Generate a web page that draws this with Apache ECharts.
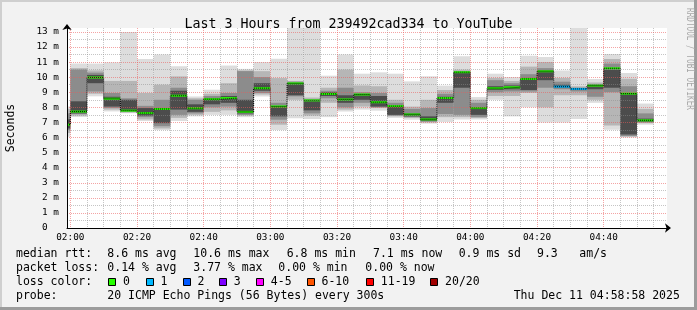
<!DOCTYPE html>
<html>
<head>
<meta charset="utf-8">
<title>Last 3 Hours from 239492cad334 to YouTube</title>
<script src="https://cdn.jsdelivr.net/npm/echarts@6/dist/echarts.min.js"></script>
<style>
  html, body { margin: 0; padding: 0; background: #f2f2f2; }
  #chart { width: 697px; height: 310px; }
</style>
</head>
<body>
<div id="chart"></div>
<script>
// 5 minute steps, first one is cut by the left edge of the window
const stepTimes = ['01:55', '02:00', '02:05', '02:10', '02:15', '02:20', '02:25', '02:30', '02:35', '02:40', '02:45', '02:50',
  '02:55', '03:00', '03:05', '03:10', '03:15', '03:20', '03:25', '03:30', '03:35', '03:40', '03:45', '03:50',
  '03:55', '04:00', '04:05', '04:10', '04:15', '04:20', '04:25', '04:30', '04:35', '04:40', '04:45', '04:50'];

const median = [6.85, 7.72, 9.98, 8.57, 7.78, 7.62, 7.89, 8.77, 7.94, 8.54, 8.61, 7.70,
  9.27, 8.06, 9.59, 8.46, 8.89, 8.52, 8.85, 8.34, 8.08, 7.53, 7.20, 8.62,
  10.33, 7.95, 9.27, 9.33, 9.88, 10.39, 9.37, 9.22, 9.44, 10.59, 8.91, 7.14];

// lost pings per step (index into lossColors)
const loss = [0, 0, 0, 0, 0, 0, 0, 0, 0, 0, 0, 0,
  0, 0, 0, 0, 0, 0, 0, 0, 0, 0, 0, 0,
  0, 0, 0, 0, 0, 0, 1, 1, 0, 0, 0, 0];

// smoke: outer band (min..max) down to the inner band around the median
const smokeLo0 = [6.05, 7.36, 8.73, 7.73, 7.60, 7.10, 6.50, 7.10, 7.40, 7.50, 7.50, 7.35,
  8.72, 6.50, 7.28, 7.22, 7.35, 7.73, 7.85, 7.78, 7.30, 7.18, 6.92, 7.03,
  7.20, 7.20, 8.50, 7.40, 8.00, 7.00, 7.00, 7.22, 8.30, 6.52, 6.00, 6.85];
const smokeHi0 = [8.06, 10.90, 10.90, 10.98, 13.00, 11.20, 11.50, 10.72, 8.72, 9.17, 10.77, 10.55,
  11.00, 11.22, 13.60, 13.60, 10.10, 11.50, 10.23, 10.32, 10.23, 9.72, 10.06, 9.44,
  11.38, 8.68, 10.23, 10.01, 11.42, 11.34, 10.45, 13.60, 9.88, 11.53, 10.28, 8.25];
const smokeLo1 = [6.30, 7.45, 8.90, 7.85, 7.65, 7.20, 6.60, 7.30, 7.50, 7.70, 7.80, 7.45,
  8.85, 6.85, 8.50, 7.45, 8.30, 7.85, 8.05, 7.95, 7.40, 7.30, 7.00, 7.35,
  7.35, 7.30, 8.75, 8.75, 8.95, 8.00, 8.80, 8.80, 8.50, 6.80, 6.05, 6.95];
const smokeHi1 = [7.90, 10.60, 10.45, 9.75, 9.75, 8.95, 9.50, 10.05, 8.60, 8.90, 9.60, 10.45,
  10.40, 9.94, 9.75, 8.65, 9.30, 10.50, 9.45, 9.40, 8.50, 8.05, 8.50, 9.15,
  10.50, 8.50, 9.95, 9.75, 10.70, 11.00, 9.95, 9.40, 9.65, 11.20, 9.90, 7.90];
const smokeLo2 = [6.50, 7.55, 9.05, 7.95, 7.70, 7.35, 6.75, 7.50, 7.60, 8.00, 8.05, 7.50,
  8.95, 7.18, 8.73, 7.60, 8.60, 8.00, 8.30, 8.00, 7.45, 7.35, 7.05, 7.55,
  7.50, 7.35, 9.00, 9.05, 9.05, 9.30, 9.20, 9.05, 8.70, 9.00, 6.10, 7.00];
const smokeHi2 = [7.60, 10.50, 10.30, 8.95, 8.60, 8.10, 8.50, 9.30, 8.50, 8.75, 8.95, 10.40,
  10.00, 8.30, 9.70, 8.55, 9.10, 9.30, 9.00, 8.95, 8.30, 7.90, 7.95, 8.90,
  10.40, 8.30, 9.80, 9.60, 10.20, 10.60, 9.70, 9.30, 9.55, 10.90, 9.40, 7.60];
const smokeLo3 = [6.60, 7.60, 9.60, 8.05, 7.75, 7.45, 6.95, 7.85, 7.70, 8.20, 8.30, 7.60,
  9.10, 7.40, 8.80, 7.80, 8.75, 8.30, 8.50, 8.05, 7.50, 7.40, 7.10, 8.30,
  9.30, 7.50, 9.15, 9.20, 9.15, 9.80, 9.30, 9.15, 9.20, 9.30, 6.20, 7.05];
const smokeHi3 = [7.20, 8.40, 10.15, 8.70, 8.50, 7.95, 7.85, 9.10, 8.20, 8.60, 8.75, 8.50,
  9.60, 8.05, 9.55, 8.45, 9.00, 8.80, 8.90, 8.75, 8.10, 7.60, 7.40, 8.70,
  10.30, 8.00, 9.40, 9.45, 9.95, 10.45, 9.50, 9.25, 9.50, 10.50, 8.95, 7.25];

const xTickLabels = ['02:00', '02:20', '02:40', '03:00', '03:20', '03:40', '04:00', '04:20', '04:40'];
const yTickLabels = ['0  ', '1 m', '2 m', '3 m', '4 m', '5 m', '6 m', '7 m', '8 m', '9 m', '10 m', '11 m', '12 m', '13 m'];

const lossLabels = ['0', '1', '2', '3', '4-5', '6-10', '11-19', '20/20'];
const lossColors = ['#26ff00', '#00b8ff', '#0059ff', '#7e00ff', '#ff00ff', '#ff5500', '#ff0000', '#a10000'];
const shades = ['#dddddd', '#b6b6b6', '#8c8c8c', '#4c4c4c'];

const rttLine = ['8.6 ms avg', '10.6 ms max', '6.8 ms min', '7.1 ms now', '0.9 ms sd', '9.3', 'am/s'];
const lossLine = ['0.14 % avg', '3.77 % max', '0.00 % min', '0.00 % now'];
const probeText = '20 ICMP Echo Pings (56 Bytes) every 300s';
const stampText = 'Thu Dec 11 04:58:58 2025';

const MONO = 'DejaVu Sans Mono';
const axisStart = 119; // 01:59 -> left edge of the 3 hour window
const toMin = (t) => Number(t.slice(0, 2)) * 60 + Number(t.slice(3));
const pad = (n) => String(n).padStart(2, '0');
const categories = [];
for (let m = axisStart; m <= axisStart + 180; m++) {
  categories.push(pad(Math.floor(m / 60)) + ':' + pad(m % 60));
}
const startIdx = (t) => Math.max(0, toMin(t) - axisStart);
const endIdx = (t) => toMin(t) + 5 - axisStart;

const bandLo = [smokeLo0, smokeLo1, smokeLo2, smokeLo3];
const bandHi = [smokeHi0, smokeHi1, smokeHi2, smokeHi3];
const smokeData = [];
bandLo.forEach((lo, level) => {
  stepTimes.forEach((t, i) => {
    smokeData.push([startIdx(t), endIdx(t), lo[i], bandHi[level][i], level]);
  });
});
const medianData = stepTimes.map((t, i) => [startIdx(t), endIdx(t), median[i], loss[i]]);
const medianStep = stepTimes.map((t, i) => [startIdx(t), median[i]]);
medianStep.push([endIdx(stepTimes[stepTimes.length - 1]), median[median.length - 1]]);

function clipToGrid(params, rect) {
  const cs = params.coordSys;
  return echarts.graphic.clipRectByRect(rect, { x: cs.x, y: cs.y, width: cs.width, height: cs.height });
}

function renderSmoke(params, api) {
  const p0 = api.coord([api.value(0), api.value(3)]);
  const p1 = api.coord([api.value(1), api.value(2)]);
  const rect = clipToGrid(params, { x: p0[0], y: p0[1], width: p1[0] - p0[0], height: p1[1] - p0[1] });
  return rect && { type: 'rect', shape: rect, style: { fill: shades[api.value(4)] } };
}

function renderMedian(params, api) {
  const p0 = api.coord([api.value(0), api.value(2)]);
  const p1 = api.coord([api.value(1), api.value(2)]);
  const rect = clipToGrid(params, { x: p0[0], y: p0[1] - 1, width: p1[0] - p0[0], height: 2 });
  return rect && { type: 'rect', shape: rect, style: { fill: lossColors[api.value(3)] } };
}

const gridMajor = 'rgba(235, 90, 90, 0.55)';
const gridMinor = 'rgba(140, 140, 140, 0.5)';
const minuteOf = (v) => Number(String(v).slice(3));

const text = (x, y, str, extra) => ({
  type: 'text', x, y, silent: true,
  style: Object.assign({ text: str, fill: '#000', font: `11.5px "${MONO}"`, verticalAlign: 'middle' }, extra || {})
});

const graphics = [
  { type: 'rect', shape: { x: 0, y: 0, width: 697, height: 2 }, style: { fill: '#cfcfcf' }, silent: true },
  { type: 'rect', shape: { x: 0, y: 0, width: 2, height: 310 }, style: { fill: '#cfcfcf' }, silent: true },
  { type: 'rect', shape: { x: 0, y: 307, width: 697, height: 3 }, style: { fill: '#9c9c9c' }, silent: true },
  { type: 'rect', shape: { x: 694, y: 0, width: 3, height: 310 }, style: { fill: '#9c9c9c' }, silent: true },
  Object.assign(text(11, 128, 'Seconds', { align: 'center' }), { rotation: Math.PI / 2 }),
  Object.assign(text(690, 59, 'RRDTOOL / TOBI OETIKER', { align: 'center', fill: '#a8a8a8', font: `11px "${MONO}"` }),
    { rotation: -Math.PI / 2, scaleX: 0.7 }),
  text(16, 254, 'median rtt:'),
  text(16, 268, 'packet loss:'),
  text(16, 282, 'loss color:'),
  text(16, 296, 'probe:'),
  text(107.3, 296, probeText),
  text(513.7, 296, stampText)
];
const rttX = [107.3, 193.3, 286.7, 373, 458.7, 537, 579.3];
rttLine.forEach((s, i) => graphics.push(text(rttX[i], 254, s)));
const lossX = [107.3, 193.3, 278.3, 365.3];
lossLine.forEach((s, i) => graphics.push(text(lossX[i], 268, s)));
const boxX = [108.3, 145.7, 182.7, 219, 256, 306.7, 366, 430.3];
lossLabels.forEach((s, i) => {
  graphics.push({
    type: 'rect', silent: true,
    shape: { x: Math.round(boxX[i]) + 0.5, y: 278.5, width: 7, height: 7 },
    style: { fill: lossColors[i], stroke: '#000', lineWidth: 1 }
  });
  graphics.push(text(boxX[i] + 14.8, 282, s));
});

const chart = echarts.init(document.getElementById('chart'));
chart.setOption({
  animation: false,
  backgroundColor: '#f2f2f2',
  title: {
    text: 'Last 3 Hours from 239492cad334 to YouTube',
    left: 'center',
    top: 12,
    textStyle: { fontFamily: MONO, fontSize: 13.3, fontWeight: 'normal', color: '#000', lineHeight: 15 }
  },
  grid: { left: 67, top: 28, width: 600, height: 200, show: true, backgroundColor: '#ffffff', borderWidth: 0 },
  xAxis: [
    {
      type: 'category',
      data: categories,
      boundaryGap: false,
      z: 5,
      axisLine: { lineStyle: { color: '#000', width: 1 }, symbol: ['none', 'arrow'], symbolSize: [7, 6], symbolOffset: [0, 4] },
      axisTick: { show: false },
      axisLabel: {
        interval: (i, v) => xTickLabels.includes(v),
        fontFamily: MONO, fontSize: 9.4, color: '#000', margin: 5
      },
      splitLine: {
        show: true,
        interval: (i, v) => xTickLabels.includes(v),
        lineStyle: { color: gridMajor, type: 'dotted', width: 1 }
      }
    },
    {
      type: 'category',
      data: categories,
      boundaryGap: false,
      position: 'top',
      z: 4,
      axisLine: { show: false },
      axisTick: { show: false },
      axisLabel: { show: false },
      splitLine: {
        show: true,
        interval: (i, v) => minuteOf(v) % 5 === 0 && !xTickLabels.includes(v),
        lineStyle: { color: gridMinor, type: 'dotted', width: 1 }
      }
    }
  ],
  yAxis: {
    type: 'value',
    min: 0,
    max: 13.26,
    interval: 0.5,
    z: 5,
    axisLine: { show: true, lineStyle: { color: '#000', width: 1 }, symbol: ['none', 'arrow'], symbolSize: [7, 6], symbolOffset: [0, 4] },
    axisTick: { show: false },
    axisLabel: {
      formatter: (v) => (Number.isInteger(v) && yTickLabels[v] !== undefined ? yTickLabels[v] : ''),
      showMaxLabel: false,
      fontFamily: MONO, fontSize: 9.4, color: '#000', margin: 8
    },
    splitLine: {
      show: true,
      showMaxLine: false,
      lineStyle: { color: [gridMajor, gridMinor], type: 'dotted', width: 1 }
    }
  },
  series: [
    {
      name: 'smoke',
      type: 'custom',
      renderItem: renderSmoke,
      encode: { x: [0, 1], y: [2, 3] },
      data: smokeData,
      silent: true
    },
    {
      name: 'median step',
      type: 'line',
      step: 'end',
      symbol: 'none',
      data: medianStep,
      lineStyle: { color: '#000', width: 1, type: 'dotted' },
      silent: true
    },
    {
      name: 'median',
      type: 'custom',
      renderItem: renderMedian,
      encode: { x: [0, 1], y: 2 },
      data: medianData,
      silent: true
    }
  ],
  graphic: graphics
});
window.addEventListener('resize', () => chart.resize());
</script>
</body>
</html>
